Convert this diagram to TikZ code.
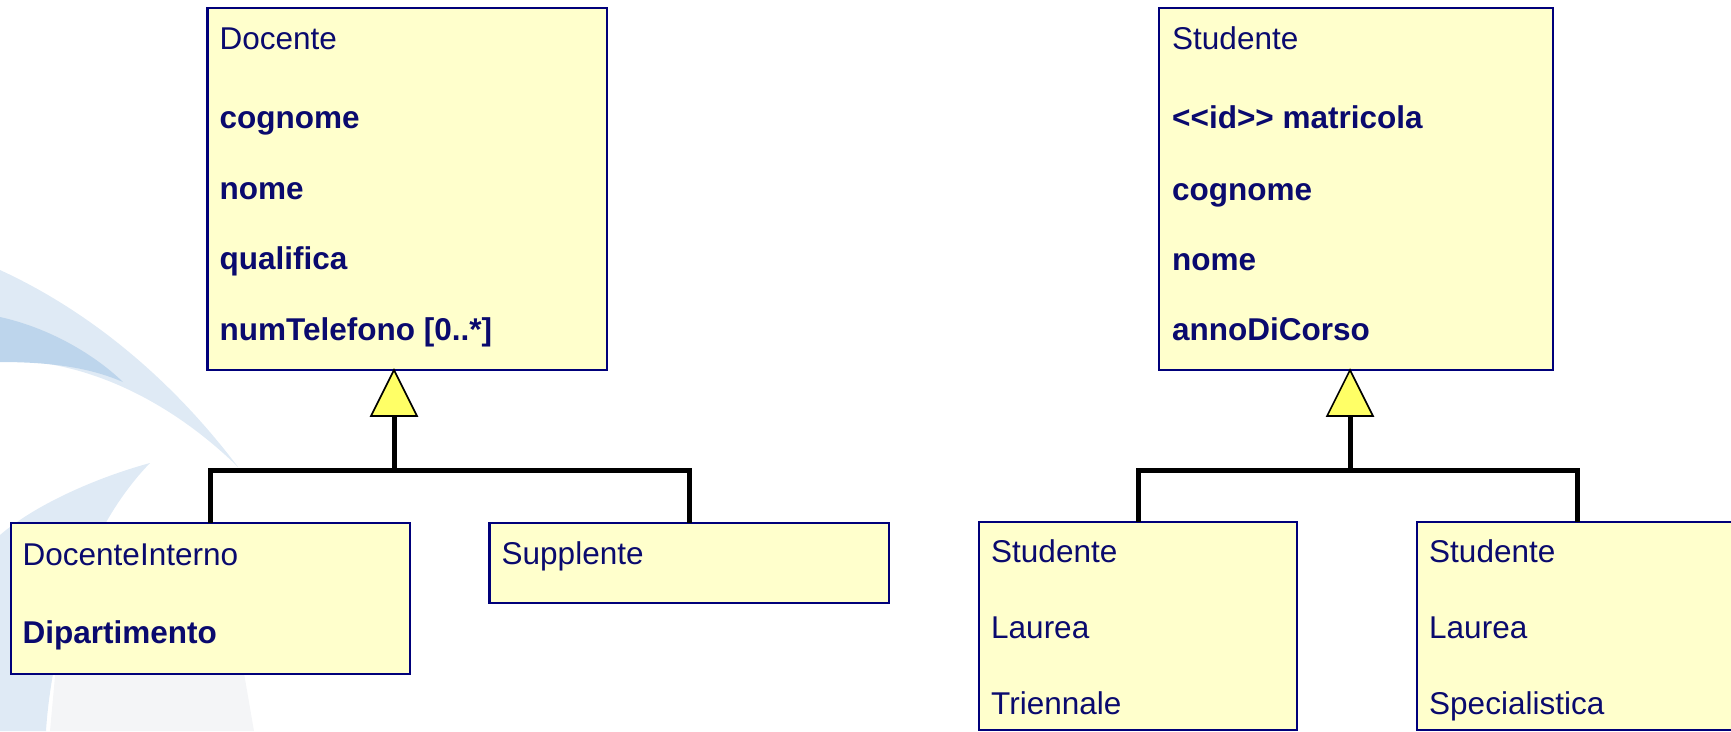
\documentclass[tikz,border=0pt]{standalone}
\usepackage{fontspec}
\setmainfont{Liberation Sans}
\definecolor{boxfill}{HTML}{FFFFCC}
\definecolor{boxline}{HTML}{00007A}
\definecolor{ink}{HTML}{0A0A6E}
\definecolor{genfill}{HTML}{FFFF66}
\definecolor{swlight}{HTML}{DFEAF5}
\definecolor{swdark}{HTML}{BDD5EC}
\definecolor{swgray}{HTML}{F4F5F7}
\begin{document}
\begin{tikzpicture}[x=1pt,y=-1pt,
  umlbox/.style={draw=boxline, fill=boxfill, line width=2.6pt, rectangle,
    inner sep=0pt, outer sep=0pt, anchor=north west},
  head/.style={anchor=base west, inner sep=0pt, text=ink,
    font=\fontsize{31.5}{37}\selectfont},
  attr/.style={head, font=\fontsize{31.5}{37}\selectfont\bfseries},
  gen/.style={draw=black, line width=5pt, line join=miter},
  genhead/.style={draw=black, fill=genfill, line width=1.6pt, line join=miter}]

\useasboundingbox (0,0) rectangle (1731,731);

% decorative swoosh in the lower left corner
\fill[swlight] (0,270) .. controls (100,316) and (180,390) .. (238,467)
  .. controls (185,415) and (110,368) .. (25,361) -- (0,361) -- cycle;
\fill[swdark] (0,317) .. controls (50,328) and (95,355) .. (123,382)
  .. controls (95,370) and (60,362) .. (0,362) -- cycle;
\fill[swgray] (50,731) -- (62,600) -- (232,600) .. controls (240,650) .. (254,731) -- cycle;
\fill[swlight] (150,463) .. controls (95,478) and (35,505) .. (0,535) -- (0,731)
  -- (46,731) .. controls (52,640) and (85,530) .. (150,463) -- cycle;

% ---------- Docente hierarchy ----------
\node[umlbox, minimum width=399.5pt, minimum height=362pt] (docente) at (207.5,8) {};
\node[umlbox, minimum width=399pt, minimum height=151pt] (dint) at (11,523) {};
\node[umlbox, minimum width=399.5pt, minimum height=80pt] (supp) at (489.5,523) {};

\coordinate (dapex) at (394,370);
\coordinate (dbase) at (394,416);
\coordinate (djoin) at (394,470);

\draw[gen] (dint.north) |- (djoin) -| (supp.north);
\draw[gen] (djoin) -- (dbase);
\draw[genhead] (dapex) -- (371,416) -- (417,416) -- cycle;

\node[head] (tdoc) at (219.5,49) {Docente};
\node[attr] (tdoc1) at (219.5,128) {cognome};
\node[attr] (tdoc2) at (219.5,199) {nome};
\node[attr] (tdoc3) at (219.5,269) {qualifica};
\node[attr] (tdoc4) at (219.5,340) {numTelefono [0..*]};

\node[head] (tdint) at (22.5,565) {DocenteInterno};
\node[attr] (tdint1) at (22.5,643) {Dipartimento};

\node[head] (tsupp) at (501.5,564) {Supplente};

% ---------- Studente hierarchy ----------
\node[umlbox, minimum width=394pt, minimum height=362pt] (stud) at (1159,8) {};
\node[umlbox, minimum width=318pt, minimum height=208pt] (strien) at (979,522) {};
\node[umlbox, minimum width=320pt, minimum height=208pt] (sspec) at (1417,522) {};

\coordinate (sapex) at (1350,370);
\coordinate (sbase) at (1350,416);
\coordinate (sjoin) at (1350,470);

\draw[gen] (strien.north) |- (sjoin) -| (sspec.north);
\draw[gen] (sjoin) -- (sbase);
\draw[genhead] (sapex) -- (1327,416) -- (1373,416) -- cycle;

\node[head] (tstud) at (1172,49) {Studente};
\node[attr] (tstud1) at (1172,128) {<{}<id>{}> matricola};
\node[attr] (tstud2) at (1172,200) {cognome};
\node[attr] (tstud3) at (1172,270) {nome};
\node[attr] (tstud4) at (1172,340) {annoDiCorso};

\node[head] (ttri1) at (991,562) {Studente};
\node[head] (ttri2) at (991,638) {Laurea};
\node[head] (ttri3) at (991,714) {Triennale};

\node[head] (tspe1) at (1429,562) {Studente};
\node[head] (tspe2) at (1429,638) {Laurea};
\node[head] (tspe3) at (1429,714) {Specialistica};

\end{tikzpicture}
\end{document}
